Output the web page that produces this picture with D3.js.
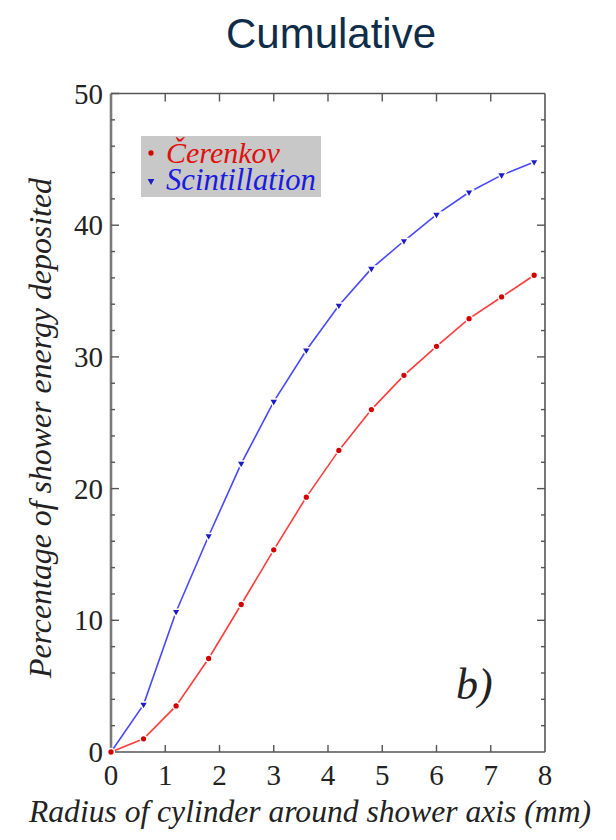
<!DOCTYPE html>
<html>
<head>
<meta charset="utf-8">
<script src="https://cdn.jsdelivr.net/npm/d3@7"></script>
<style>
  body { margin: 0; background: #fff; }
</style>
</head>
<body>
<div id="chart"></div>
<script>
'use strict';

// values
var radius = [0, 0.6, 1.2, 1.8, 2.4, 3.0, 3.6, 4.2, 4.8, 5.4, 6.0, 6.6, 7.2, 7.8];
var cerenkov = [0, 1.0, 3.5, 7.1, 11.2, 15.35, 19.35, 22.9, 26.0, 28.6, 30.8, 32.9, 34.55, 36.2];
var scintillation = [0, 3.6, 10.65, 16.4, 21.9, 26.6, 30.5, 33.9, 36.7, 38.8, 40.8, 42.5, 43.8, 44.8];
var xTicks = [0, 1, 2, 3, 4, 5, 6, 7, 8];
var yTicks = [0, 10, 20, 30, 40, 50];
var yMinor = [2, 4, 6, 8, 12, 14, 16, 18, 22, 24, 26, 28, 32, 34, 36, 38, 42, 44, 46, 48];

(function () {
var W = 616, H = 840;
var mLeft = 111, mRight = 545, mTop = 93.5, mBottom = 752;
var SERIF = "'Liberation Serif', 'Times New Roman', Times, serif";

var svg = d3.select("#chart").append("svg")
    .attr("width", W).attr("height", H);

var x = d3.scaleLinear().domain([0, 8]).range([mLeft, mRight]);
var y = d3.scaleLinear().domain([0, 50]).range([mBottom, mTop]);

// shrink / grow a text's font so that it spans the wanted width
function fit(sel, width) {
    var fs = parseFloat(sel.style("font-size"));
    var len = sel.node().getComputedTextLength();
    sel.style("font-size", (fs * width / len).toFixed(2) + "px");
}

// title
svg.append("text")
    .attr("x", 331).attr("y", 48)
    .attr("text-anchor", "middle")
    .attr("font-family", "'Liberation Sans', Arial, sans-serif")
    .style("font-size", "42px")
    .attr("fill", "#0f2d48")
    .text("Cumulative");

// frame
var frame = svg.append("g");
frame.append("line").attr("x1", mLeft).attr("x2", mRight).attr("y1", mTop).attr("y2", mTop);
frame.append("line").attr("x1", mRight).attr("x2", mRight).attr("y1", mTop).attr("y2", mBottom);
frame.append("line").attr("x1", mLeft).attr("x2", mRight).attr("y1", mBottom).attr("y2", mBottom);
frame.selectAll("line").attr("stroke", "#555").attr("stroke-width", 1.6);
frame.append("line").attr("x1", mLeft).attr("x2", mLeft).attr("y1", mTop).attr("y2", mBottom)
    .attr("stroke", "#7a7a7a").attr("stroke-width", 2.6);

// ticks, all pointing inwards
var ticks = svg.append("g").attr("stroke", "#555").attr("stroke-width", 1.4);
xTicks.slice(1, -1).forEach(function (t) {
    ticks.append("line").attr("x1", x(t)).attr("x2", x(t)).attr("y1", mBottom).attr("y2", mBottom - 7);
    ticks.append("line").attr("x1", x(t)).attr("x2", x(t)).attr("y1", mTop).attr("y2", mTop + 8);
});
yTicks.slice(1, -1).forEach(function (t) {
    ticks.append("line").attr("x1", mLeft).attr("x2", mLeft + 8).attr("y1", y(t)).attr("y2", y(t));
    ticks.append("line").attr("x1", mRight).attr("x2", mRight - 8).attr("y1", y(t)).attr("y2", y(t));
});
yMinor.forEach(function (t) {
    ticks.append("line").attr("x1", mLeft).attr("x2", mLeft + 4).attr("y1", y(t)).attr("y2", y(t));
    ticks.append("line").attr("x1", mRight).attr("x2", mRight - 4).attr("y1", y(t)).attr("y2", y(t));
});
ticks.append("line").attr("x1", mLeft).attr("x2", mLeft + 8).attr("y1", mTop).attr("y2", mTop);

// tick labels
svg.append("g").selectAll("text").data(xTicks).enter().append("text")
    .attr("x", function (d) { return x(d); })
    .attr("y", 785)
    .attr("text-anchor", "middle")
    .attr("font-family", SERIF)
    .style("font-size", "29px")
    .attr("fill", "#222")
    .text(function (d) { return d; });

svg.append("g").selectAll("text").data(yTicks).enter().append("text")
    .attr("x", 103)
    .attr("y", function (d) { return y(d) + 10; })
    .attr("text-anchor", "end")
    .attr("font-family", SERIF)
    .style("font-size", "29px")
    .attr("fill", "#222")
    .text(function (d) { return d; });

// axis titles
var xt = svg.append("text")
    .attr("x", 310).attr("y", 822)
    .attr("text-anchor", "middle")
    .attr("font-family", SERIF)
    .style("font-size", "28px")
    .style("font-style", "italic")
    .attr("fill", "#222")
    .text("Radius of cylinder around shower axis (mm)");
fit(xt, 562);

var yt = svg.append("text")
    .attr("transform", "translate(51,428) rotate(-90)")
    .attr("text-anchor", "middle")
    .attr("font-family", SERIF)
    .style("font-size", "28px")
    .style("font-style", "italic")
    .attr("fill", "#222")
    .text("Percentage of shower energy deposited");
fit(yt, 500);

// curves
var line = d3.line()
    .x(function (d, i) { return x(radius[i]); })
    .y(function (d) { return y(d); });

svg.append("path").datum(cerenkov)
    .attr("d", line).attr("fill", "none")
    .attr("stroke", "#ff3b3b").attr("stroke-width", 1.6);
svg.append("path").datum(scintillation)
    .attr("d", line).attr("fill", "none")
    .attr("stroke", "#4848ff").attr("stroke-width", 1.6);

var dot = d3.symbol().type(d3.symbolCircle).size(36);
var tri = d3.symbol().type(d3.symbolTriangle).size(34);

svg.append("g").selectAll("path").data(cerenkov).enter().append("path")
    .attr("d", dot)
    .attr("transform", function (d, i) { return "translate(" + x(radius[i]) + "," + y(d) + ")"; })
    .attr("fill", "#d40000").attr("stroke", "#fff").attr("stroke-width", 1.5);

svg.append("g").selectAll("path").data(scintillation.slice(1)).enter().append("path")
    .attr("d", tri)
    .attr("transform", function (d, i) { return "translate(" + x(radius[i + 1]) + "," + y(d) + ") rotate(180)"; })
    .attr("fill", "#1c1cc8").attr("stroke", "#fff").attr("stroke-width", 1.5);

// legend
var lg = svg.append("g");
lg.append("rect").attr("x", 141).attr("y", 136).attr("width", 180).attr("height", 61)
    .attr("fill", "#c8c8c8");
lg.append("path").attr("d", d3.symbol().type(d3.symbolCircle).size(22))
    .attr("transform", "translate(151,153)").attr("fill", "#d40000");
lg.append("path").attr("d", d3.symbol().type(d3.symbolTriangle).size(20))
    .attr("transform", "translate(151,181) rotate(180)").attr("fill", "#1c1cc8");
var l1 = lg.append("text").attr("x", 166).attr("y", 163)
    .attr("font-family", SERIF)
    .style("font-size", "28px").style("font-style", "italic")
    .attr("fill", "#e01010").text("Čerenkov");
fit(l1, 114);
var l2 = lg.append("text").attr("x", 166).attr("y", 190)
    .attr("font-family", SERIF)
    .style("font-size", "28px").style("font-style", "italic")
    .attr("fill", "#1a1ae0").text("Scintillation");
fit(l2, 150);

// panel label
svg.append("text").attr("x", 456).attr("y", 699)
    .attr("font-family", SERIF)
    .style("font-size", "44px").style("font-style", "italic")
    .attr("fill", "#222").text("b)");
})();
</script>
</body>
</html>
